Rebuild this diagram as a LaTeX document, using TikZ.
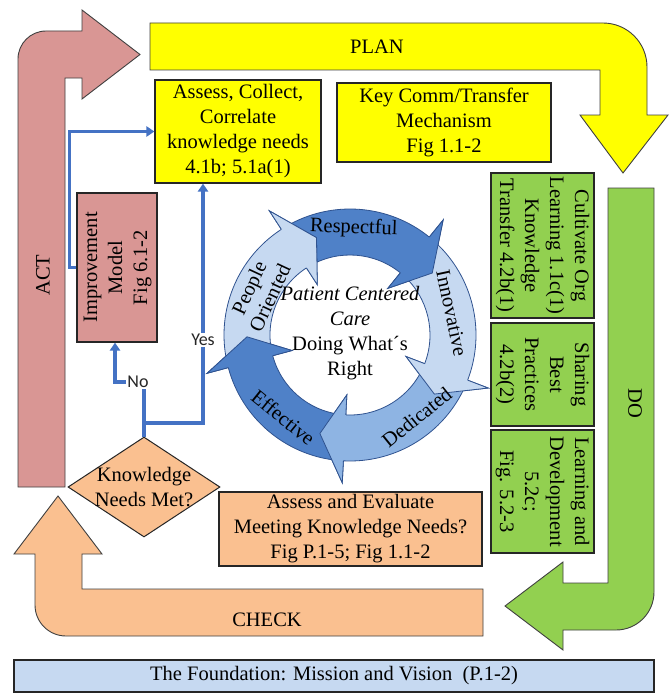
\documentclass[tikz,border=0pt]{standalone}
\usepackage{fontspec}
\usepackage{graphicx}
\setmainfont{Liberation Serif}
\newfontfamily\connsans{Carlito}
\usetikzlibrary{shapes.geometric,arrows.meta}

\newcommand\dgmfont{\fontsize{20.5}{25}\selectfont}
\newcommand\vtext[2]{\rotatebox{#1}{\begin{tabular}{@{}c@{}}#2\end{tabular}}}

\definecolor{actpink}{RGB}{217,150,148}
\definecolor{planyel}{RGB}{255,255,0}
\definecolor{dogreen}{RGB}{146,208,80}
\definecolor{chkpeach}{RGB}{250,192,144}
\definecolor{fndblue}{RGB}{198,217,241}
\definecolor{flowblue}{RGB}{68,114,196}
\definecolor{edge}{RGB}{64,64,64}
\definecolor{cycdark}{RGB}{79,129,200}
\definecolor{cycmid}{RGB}{142,180,227}
\definecolor{cyclight}{RGB}{198,217,241}
\definecolor{cycedge}{RGB}{47,82,143}

\tikzset{
  shapeline/.style={draw=edge, line width=0.9pt, line join=miter},
  box/.style={draw=black!85, line width=1.1pt, align=center, inner sep=0pt, font=\dgmfont},
  plain/.style={align=center, inner sep=0pt, font=\dgmfont},
  flow/.style={draw=flowblue, line width=3.2pt},
  flowtip/.style={-{Triangle[length=8pt,width=10pt]}},
  yesno/.style={fill=white, inner sep=1.5pt, font=\connsans\fontsize{18}{20}\selectfont, text=black!85},
  cyc/.style={draw=cycedge, line width=0.8pt, line join=miter},
  kdiamond/.style={diamond, draw=black!85, line width=1pt, fill=chkpeach,
    minimum width=152pt, minimum height=100pt, inner sep=0pt},
}

\begin{document}
\begin{tikzpicture}[x=1pt, y=-1pt]
\fill[white] (0,0) rectangle (671,693);
\useasboundingbox (0,0) rectangle (671,693);

% ---- PDCA block arrows ----
% ACT
\draw[shapeline, fill=actpink] (18,487) -- (18,59) arc[start angle=180, end angle=270, radius=28]
  -- (82,31) -- (82,10) -- (140,54.5) -- (82,99) -- (82,78) -- (65,78) -- (65,487) -- cycle;
% PLAN
\draw[shapeline, fill=planyel] (150,23) -- (603,23) arc[start angle=270, end angle=360, radius=44]
  -- (647,115) -- (668,115) -- (623,173) -- (580,115) -- (600,115) -- (600,70) -- (150,70) -- cycle;
% DO
\draw[shapeline, fill=dogreen] (608,188) -- (654,188) -- (654,592) arc[start angle=0, end angle=90, radius=38]
  -- (563,630) -- (563,650) -- (505,606) -- (563,562) -- (563,583) -- (608,583) -- cycle;
% CHECK
\draw[shapeline, fill=chkpeach] (483,589) -- (483,636) -- (66,636) arc[start angle=90, end angle=180, radius=31]
  -- (35,554) -- (14,554) -- (58,496) -- (102,554) -- (82,554) -- (82,589) -- cycle;

\node[plain, rotate=90] (actlbl) at (43,275) {ACT};
\node[plain] (planlbl) at (377,47) {PLAN};
\node[plain, rotate=-90] (dolbl) at (635,403) {DO};
\node[plain] (checklbl) at (267,620) {CHECK};

% ---- boxes ----
\node[box, fill=planyel, minimum width=166pt, minimum height=103pt] (as) at (238,131.5)
  {Assess, Collect,\\Correlate\\knowledge needs\\4.1b; 5.1a(1)};
\node[box, fill=planyel, minimum width=214pt, minimum height=79pt] (kc) at (444,122.5)
  {Key Comm/Transfer\\Mechanism\\Fig 1.1-2};
\node[box, fill=actpink, minimum width=80pt, minimum height=149pt] (im) at (117,267.5)
  {\vtext{90}{Improvement\\Model\\Fig 6.1-2}};
\node[box, fill=dogreen, minimum width=103pt, minimum height=145pt] (g1) at (542.5,245.5)
  {\vtext{-90}{Cultivate Org\\Learning 1.1c(1)\\Knowledge\\Transfer 4.2b(1)}};
\node[box, fill=dogreen, minimum width=103pt, minimum height=103pt] (g2) at (542.5,374.5)
  {\vtext{-90}{Sharing\\Best\\Practices\\4.2b(2)}};
\node[box, fill=dogreen, minimum width=103pt, minimum height=123pt] (g3) at (542.5,491.5)
  {\vtext{-90}{Learning and\\Development\\5.2c;\\Fig. 5.2-3}};
\node[box, fill=chkpeach, minimum width=263pt, minimum height=74pt] (ae) at (350.5,529)
  {Assess and Evaluate\\Meeting Knowledge Needs?\\Fig P.1-5; Fig 1.1-2};
\node[box, fill=fndblue, minimum width=640pt, minimum height=32pt] (fnd) at (334,676)
  {The Foundation: Mission and Vision\ \ (P.1-2)};

\node[kdiamond] (kn) at (144,487) {};
\node[plain] (kntext) at (kn.center) {Knowledge\\Needs Met?};

% ---- value cycle ----
\begin{scope}[shift={(350,335)}]
\foreach \c/\col in {-87/cycdark,-15/cyclight,57/cycmid,129/cycdark,201/cyclight}{
  \draw[cyc, fill=\col] (\c-33:126) arc[start angle=\c-33, end angle=\c+36, radius=126]
    -- (\c+36:148) -- (\c+50:103) -- (\c+36:60) -- (\c+36:80)
    arc[start angle=\c+36, end angle=\c-33, radius=80] -- cycle;
}
\foreach \c/\col in {-87/cycdark,-15/cyclight,57/cycmid,129/cycdark,201/cyclight}{
  \fill[\col] (\c+36:126) -- (\c+36:148) -- (\c+50:103) -- (\c+36:60) -- (\c+36:80) -- cycle;
  \draw[cyc] (\c+36:126) -- (\c+36:148) -- (\c+50:103) -- (\c+36:60) -- (\c+36:80);
}
\node[plain, rotate=-2] (v1) at (-88:107) {Respectful};
\node[plain, rotate=-78] (v2) at (-12:104) {Innovative};
\node[plain, rotate=39] (v3) at (51:106) {Dedicated};
\node[plain, rotate=-39] (v4) at (129:106) {Effective};
\node[plain, rotate=65, font=\fontsize{20.5}{23}\selectfont] (v5) at (205:100) {People\\Oriented};
\node[plain] (core) at (0,-2) {\textit{Patient Centered}\\\textit{Care}\\Doing What´s\\Right};
\end{scope}

% ---- decision connectors ----
\coordinate (jn) at (144,423);
\coordinate (yc) at (203,423);
\coordinate (nc) at (144,382);
\coordinate (nl) at (115,382);
\draw[flow] (kn.north) -- (jn);
\draw[flow, flowtip] (jn) -- (yc) -- (yc |- as.south);
\draw[flow, flowtip] (jn) -- (nc) -- (nl) -- (nl |- im.south);
\draw[flow, flowtip] (im.west) -- ++(-7,0) |- (as.west);
\node[yesno] (no) at (138,382) {No};
\node[yesno] (yes) at (203,340) {Yes};
\end{tikzpicture}
\end{document}
